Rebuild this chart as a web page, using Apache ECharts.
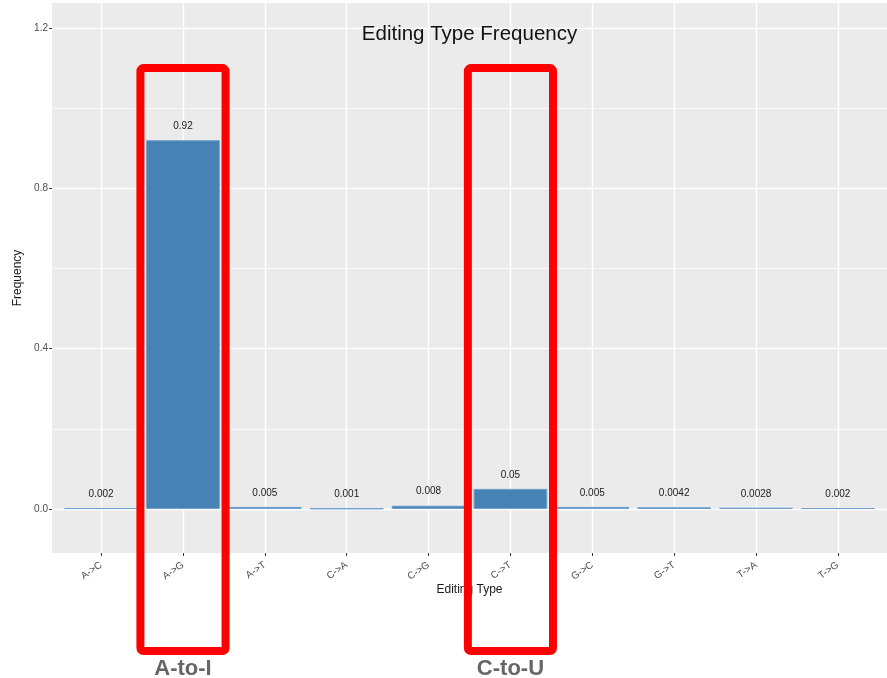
<!DOCTYPE html>
<html>
<head>
<meta charset="utf-8">
<title>Editing Type Frequency</title>
<script src="https://cdn.jsdelivr.net/npm/echarts@6/dist/echarts.min.js"></script>
<style>
  html, body { margin: 0; padding: 0; background: #ffffff; }
  #chart { width: 887px; height: 678px; }
</style>
</head>
<body>
<div id="chart"></div>
<script>
// Editing types and their observed frequencies
const categories = ['A->C', 'A->G', 'A->T', 'C->A', 'C->G', 'C->T', 'G->C', 'G->T', 'T->A', 'T->G'];
const frequencies = [0.002, 0.92, 0.005, 0.001, 0.008, 0.05, 0.005, 0.0042, 0.0028, 0.002];

// Y axis: labelled breaks and the minor breaks between them
const majorBreaks = [0, 0.4, 0.8, 1.2];
const minorBreaks = [0.2, 0.6, 1.0];

// Highlighted editing types with their biological names
const highlighted = ['A->G', 'C->T'];
const highlightNames = ['A-to-I', 'C-to-U'];

const FONT = '"Liberation Sans", Arial, Helvetica, sans-serif';
const Y_MIN = -0.11;
const Y_MAX = 1.2625;

// panel geometry: discrete scale expanded by 0.6 of a band on each side
const W = 887, H = 678;
const panelLeft = 52, panelRight = 0, panelTop = 3, panelBottom = 125;
const panelWidth = W - panelLeft - panelRight;
const band = panelWidth / (categories.length + 0.2);
const inset = 0.1 * band;
const bandCentres = categories.map((c, i) => i);

const chart = echarts.init(document.getElementById('chart'), null, { renderer: 'canvas' });

const option = {
  animation: false,
  backgroundColor: '#ffffff',
  grid: [
    { // panel background with the full grid
      left: panelLeft, right: panelRight, top: panelTop, bottom: panelBottom,
      show: true, backgroundColor: '#ebebeb', borderWidth: 0
    },
    { // bars and category labels
      left: panelLeft + inset, right: panelRight + inset, top: panelTop, bottom: panelBottom,
      show: false
    }
  ],
  xAxis: [
    { // index positions across the expanded panel, for vertical grid lines
      gridIndex: 0, type: 'value', min: -0.6, max: categories.length - 0.4,
      axisLine: { show: false, onZero: false },
      axisTick: { show: false, customValues: bandCentres },
      axisLabel: { show: false, customValues: bandCentres },
      splitLine: { show: true, lineStyle: { color: '#ffffff', width: 1.4 } }
    },
    {
      gridIndex: 1, type: 'category', data: categories,
      axisLine: { show: false, onZero: false },
      axisTick: { show: true, alignWithLabel: true, length: 3, lineStyle: { color: '#333333', width: 1 } },
      axisLabel: {
        rotate: 35, margin: 11, fontFamily: FONT, fontSize: 10, color: '#4d4d4d', interval: 0
      },
      splitLine: { show: false }
    }
  ],
  yAxis: [
    {
      gridIndex: 0, type: 'value', min: Y_MIN, max: Y_MAX,
      axisLine: { show: false, onZero: false },
      axisTick: { show: true, length: 3, customValues: majorBreaks, lineStyle: { color: '#333333', width: 1 } },
      axisLabel: {
        customValues: majorBreaks, margin: 4, fontFamily: FONT, fontSize: 10, color: '#4d4d4d',
        formatter: v => Number(v).toFixed(1)
      },
      splitLine: { show: true, lineStyle: { color: '#ffffff', width: 1.4 } },
      name: 'Frequency', nameLocation: 'middle', nameRotate: 90, nameGap: 23,
      nameTextStyle: { fontFamily: FONT, fontSize: 12, color: '#1a1a1a' }
    },
    { // minor horizontal grid lines
      gridIndex: 0, type: 'value', min: Y_MIN, max: Y_MAX,
      axisLine: { show: false, onZero: false },
      axisTick: { show: false, customValues: minorBreaks },
      axisLabel: { show: false, customValues: minorBreaks },
      splitLine: { show: true, lineStyle: { color: '#ffffff', width: 0.7 } }
    },
    { // value scale for the bars
      gridIndex: 1, type: 'value', min: Y_MIN, max: Y_MAX,
      axisLine: { show: false, onZero: false }, axisTick: { show: false },
      axisLabel: { show: false }, splitLine: { show: false }
    }
  ],
  series: [
    {
      type: 'bar', xAxisIndex: 1, yAxisIndex: 2,
      data: frequencies,
      barCategoryGap: '10%',
      itemStyle: { color: '#4682b4', borderColor: '#6a9fcf', borderWidth: 1 },
      label: {
        show: true, position: 'top', distance: 9,
        fontFamily: FONT, fontSize: 10, color: '#1a1a1a',
        formatter: p => String(p.value)
      }
    }
  ]
};

chart.setOption(option);

// title and x-axis title centred on the panel, plus highlight boxes around selected types
function drawOverlays() {
  const panelCentre = panelLeft + panelWidth / 2;
  const elements = [{
    type: 'text', z: 10,
    style: {
      text: 'Editing Type Frequency',
      x: panelCentre, y: 34,
      align: 'center', verticalAlign: 'middle',
      font: '20.5px ' + FONT, fill: '#111111'
    }
  }, {
    type: 'text', z: 10,
    style: {
      text: 'Editing Type',
      x: panelCentre, y: H - panelBottom + 37,
      align: 'center', verticalAlign: 'middle',
      font: '12px ' + FONT, fill: '#1a1a1a'
    }
  }];
  const boxTop = chart.convertToPixel({ yAxisIndex: 0 }, 1.1);
  const boxBottom = H - 27;
  const boxWidth = band * 1.04;
  highlighted.forEach((cat, i) => {
    const cx = chart.convertToPixel({ xAxisIndex: 1 }, cat);
    elements.push({
      type: 'rect', z: 20,
      shape: { x: cx - boxWidth / 2, y: boxTop, width: boxWidth, height: boxBottom - boxTop, r: 3 },
      style: { fill: 'none', stroke: '#ff0000', lineWidth: 8 }
    });
    elements.push({
      type: 'text', z: 20,
      style: {
        text: highlightNames[i], x: cx, y: H - 9,
        align: 'center', verticalAlign: 'middle',
        font: 'bold 22px ' + FONT, fill: '#666666'
      }
    });
  });
  chart.setOption({ graphic: { elements: elements } });
}
drawOverlays();
</script>
</body>
</html>
